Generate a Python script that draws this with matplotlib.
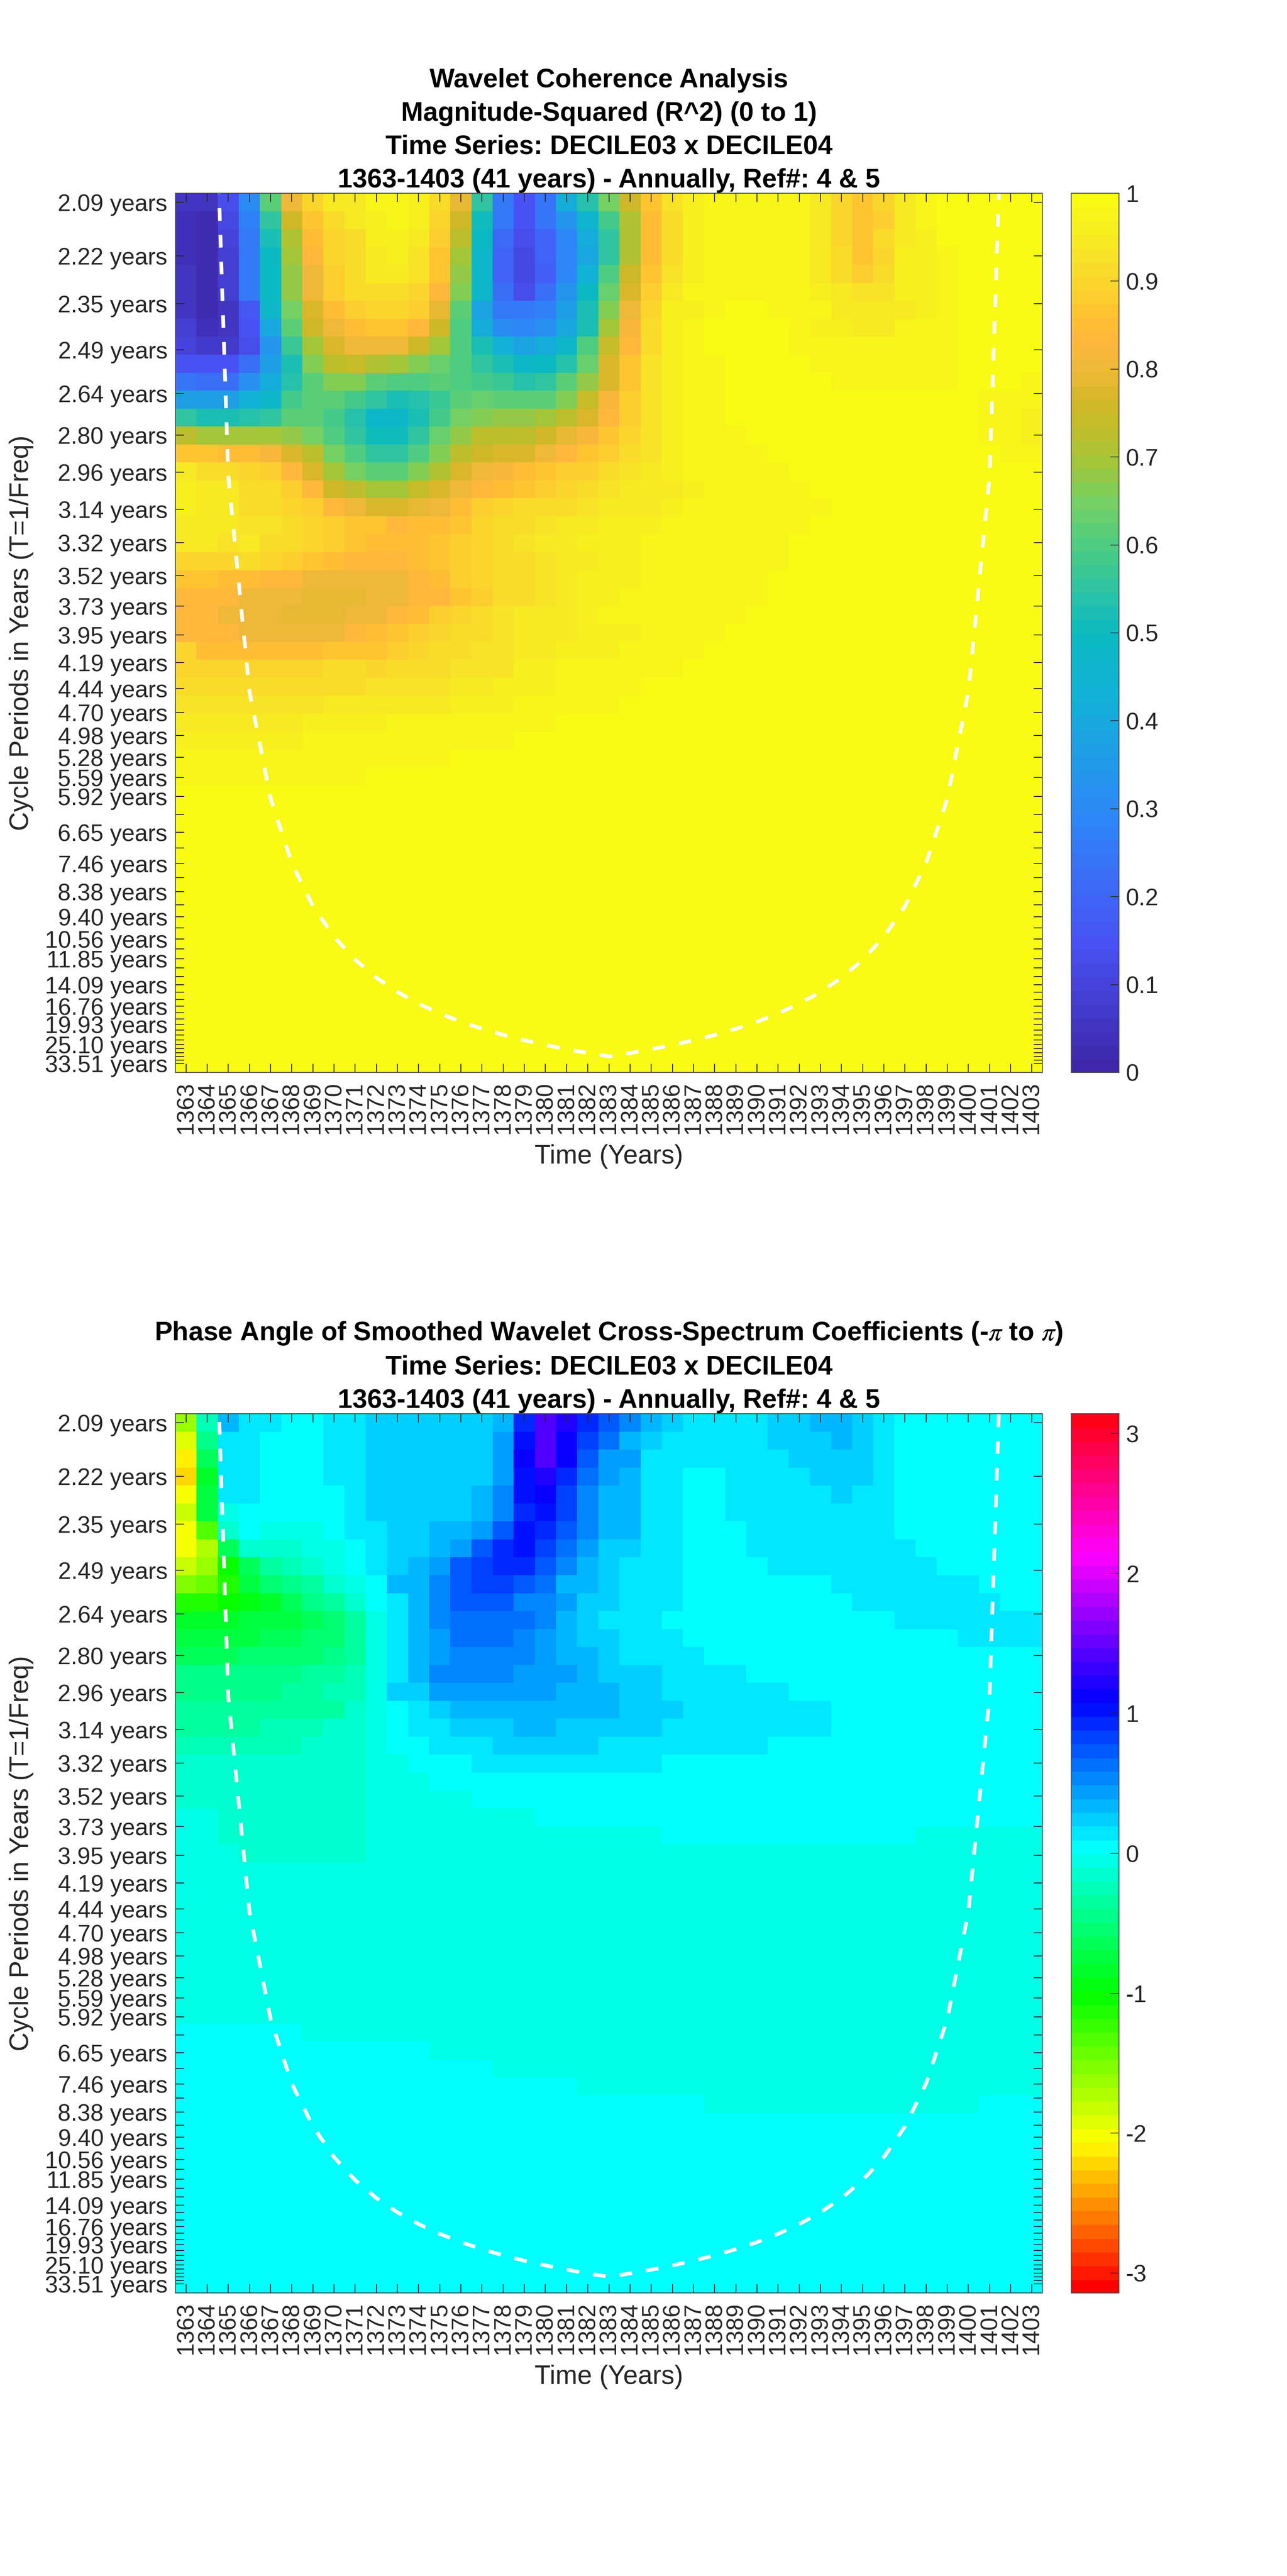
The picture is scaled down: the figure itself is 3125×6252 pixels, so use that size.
import matplotlib
matplotlib.use("Agg")
import matplotlib.pyplot as plt
import numpy as np
from matplotlib.colors import LinearSegmentedColormap, ListedColormap, hsv_to_rgb

plt.rcParams['font.family'] = ['Liberation Sans', 'DejaVu Sans']
plt.rcParams['mathtext.fontset'] = 'stix'
plt.rcParams['axes.unicode_minus'] = False

years = list(range(1363, 1404))

# periods behind the 49 rows / y ticks
periods = [2.09, 2.22, 2.35, 2.49, 2.64, 2.80, 2.96, 3.14, 3.32, 3.52, 3.73, 3.95, 4.19, 4.44, 4.70,
           4.98, 5.28, 5.59, 5.92, 6.27, 6.65, 7.04, 7.46, 7.90, 8.38, 8.88, 9.40, 9.96, 10.56, 11.18,
           11.85, 12.55, 13.30, 14.09, 14.93, 15.82, 16.76, 17.76, 18.81, 19.93, 21.12, 22.37, 23.70,
           25.10, 26.60, 28.18, 29.85, 31.63, 33.51]
unlabeled = [6.27, 7.04, 7.90, 8.88, 9.96, 11.18, 12.55, 13.30, 14.93, 15.82, 17.76, 18.81, 21.12,
             22.37, 23.70, 26.60, 28.18, 29.85, 31.63]

# cone of influence, period per year from 1364 to 1402
coi_years = list(range(1364, 1403))
coi_periods = [1.49, 2.98, 4.47, 5.96, 7.45, 8.94, 10.43, 11.92, 13.41, 14.90, 16.39, 17.88, 19.37,
               20.86, 22.35, 23.84, 25.33, 26.82, 28.31, 29.80, 28.31, 26.82, 25.33, 23.84, 22.35,
               20.86, 19.37, 17.88, 16.39, 14.90, 13.41, 11.92, 10.43, 8.94, 7.45, 5.96, 4.47, 2.98, 1.49]

# R^2 x 100, one list per row, top row first
coherence = [
    [5, 5, 14, 31, 62, 80, 90, 94, 95, 97, 98, 96, 91, 79, 55, 25, 15, 24, 41, 54, 65,
     75, 86, 93, 96, 98, 98, 98, 98, 97, 95, 90, 86, 90, 94, 97, 99, 99, 99, 99, 99],
    [4, 3, 12, 28, 56, 75, 87, 91, 94, 96, 98, 96, 90, 75, 51, 25, 15, 24, 34, 46, 58,
     71, 85, 92, 96, 98, 98, 98, 98, 97, 95, 90, 86, 89, 94, 97, 99, 99, 99, 99, 99],
    [4, 3, 10, 25, 52, 71, 85, 90, 92, 96, 96, 95, 89, 72, 49, 21, 13, 20, 29, 41, 56,
     71, 85, 92, 96, 98, 98, 98, 98, 97, 95, 90, 86, 92, 94, 96, 99, 99, 99, 99, 99],
    [4, 3, 9, 25, 49, 69, 84, 90, 92, 95, 96, 93, 87, 70, 48, 20, 12, 19, 29, 40, 55,
     71, 85, 92, 96, 98, 98, 98, 98, 97, 95, 92, 86, 90, 96, 96, 97, 99, 99, 99, 99],
    [5, 3, 9, 25, 49, 68, 81, 88, 91, 95, 95, 93, 87, 68, 47, 20, 12, 18, 29, 43, 60,
     75, 87, 93, 96, 98, 98, 98, 98, 97, 95, 92, 88, 92, 96, 96, 97, 99, 99, 99, 99],
    [5, 3, 9, 25, 49, 68, 81, 88, 91, 92, 92, 90, 83, 66, 47, 23, 13, 23, 33, 49, 63,
     77, 88, 94, 97, 98, 98, 98, 98, 98, 96, 95, 93, 93, 96, 96, 97, 99, 99, 99, 99],
    [5, 3, 6, 16, 47, 65, 78, 85, 89, 90, 90, 89, 79, 62, 39, 25, 25, 28, 36, 52, 66,
     80, 90, 96, 96, 97, 99, 99, 98, 98, 97, 95, 94, 94, 95, 96, 97, 99, 99, 99, 99],
    [8, 4, 5, 15, 40, 61, 76, 81, 85, 87, 87, 84, 76, 60, 42, 31, 29, 32, 40, 53, 70,
     82, 91, 96, 98, 99, 99, 99, 99, 97, 96, 96, 95, 95, 97, 98, 98, 99, 99, 99, 99],
    [10, 7, 7, 13, 34, 57, 70, 77, 80, 80, 80, 76, 69, 60, 52, 43, 39, 41, 47, 60, 74,
     84, 91, 96, 98, 99, 99, 99, 99, 97, 98, 97, 97, 97, 97, 98, 98, 99, 99, 99, 99],
    [15, 15, 15, 22, 37, 53, 66, 72, 74, 71, 69, 66, 63, 60, 56, 53, 48, 49, 54, 64, 77,
     87, 93, 96, 98, 98, 99, 99, 99, 99, 98, 98, 98, 98, 98, 98, 98, 99, 99, 99, 99],
    [24, 23, 23, 32, 42, 54, 62, 66, 66, 62, 60, 60, 61, 60, 59, 57, 54, 55, 61, 68, 78,
     87, 93, 96, 98, 98, 99, 99, 99, 99, 99, 98, 98, 98, 98, 98, 98, 99, 99, 99, 98],
    [36, 36, 36, 43, 48, 58, 62, 62, 59, 55, 52, 54, 57, 62, 63, 62, 61, 62, 66, 74, 82,
     89, 93, 96, 97, 98, 99, 99, 99, 99, 99, 99, 99, 99, 99, 99, 99, 99, 98, 98, 98],
    [55, 53, 53, 54, 56, 62, 62, 58, 54, 47, 47, 53, 59, 65, 67, 68, 68, 70, 73, 78, 84,
     89, 93, 96, 97, 98, 99, 99, 99, 99, 99, 99, 99, 99, 99, 99, 99, 99, 98, 98, 96],
    [72, 70, 70, 70, 70, 68, 65, 60, 56, 51, 51, 56, 63, 68, 72, 73, 73, 75, 79, 82, 87,
     90, 93, 96, 97, 98, 98, 99, 99, 99, 99, 99, 99, 99, 99, 99, 99, 99, 98, 98, 96],
    [87, 87, 85, 85, 82, 78, 73, 65, 60, 56, 56, 60, 66, 72, 76, 77, 78, 81, 84, 87, 89,
     92, 93, 96, 97, 97, 98, 98, 99, 99, 99, 99, 99, 99, 99, 99, 99, 99, 99, 98, 98],
    [94, 91, 91, 90, 89, 84, 78, 70, 65, 62, 62, 66, 71, 77, 80, 82, 85, 87, 88, 89, 91,
     93, 95, 96, 97, 98, 98, 98, 98, 99, 99, 99, 99, 99, 99, 99, 99, 99, 99, 99, 99],
    [96, 94, 94, 92, 91, 88, 84, 76, 73, 70, 69, 74, 77, 80, 84, 85, 87, 88, 90, 91, 93,
     95, 95, 95, 96, 97, 97, 98, 98, 98, 99, 99, 99, 99, 99, 99, 99, 99, 99, 99, 99],
    [96, 95, 95, 92, 92, 90, 88, 84, 81, 78, 77, 79, 81, 85, 88, 90, 91, 92, 91, 93, 94,
     94, 95, 96, 97, 97, 97, 98, 98, 98, 98, 99, 99, 99, 99, 99, 99, 99, 99, 99, 99],
    [95, 95, 95, 93, 93, 91, 90, 88, 86, 86, 84, 85, 85, 87, 90, 91, 92, 93, 94, 94, 96,
     96, 96, 98, 98, 97, 98, 98, 98, 98, 99, 99, 99, 99, 99, 99, 99, 99, 99, 99, 99],
    [95, 95, 93, 94, 92, 91, 90, 88, 87, 85, 85, 85, 87, 89, 90, 92, 93, 94, 95, 96, 96,
     96, 97, 97, 97, 98, 98, 98, 98, 99, 99, 99, 99, 99, 99, 99, 99, 99, 99, 99, 99],
    [90, 90, 90, 91, 90, 88, 86, 85, 83, 83, 83, 85, 87, 89, 90, 92, 92, 93, 95, 95, 96,
     96, 97, 97, 97, 98, 98, 98, 98, 99, 99, 99, 99, 99, 99, 99, 99, 99, 99, 99, 99],
    [87, 87, 85, 85, 83, 83, 81, 81, 81, 81, 81, 83, 85, 88, 90, 91, 92, 93, 95, 96, 96,
     96, 97, 97, 98, 98, 98, 98, 99, 99, 99, 99, 99, 99, 99, 99, 99, 99, 99, 99, 99],
    [83, 83, 83, 81, 81, 81, 79, 79, 79, 81, 81, 83, 84, 87, 89, 91, 92, 93, 95, 96, 96,
     97, 97, 97, 98, 98, 98, 98, 99, 99, 99, 99, 99, 99, 99, 99, 99, 99, 99, 99, 99],
    [83, 83, 81, 81, 81, 79, 79, 79, 81, 81, 83, 85, 88, 90, 91, 93, 94, 94, 95, 96, 98,
     97, 97, 98, 98, 98, 98, 99, 99, 99, 99, 99, 99, 99, 99, 99, 99, 99, 99, 99, 99],
    [84, 84, 84, 81, 81, 81, 81, 81, 83, 85, 86, 88, 90, 91, 92, 93, 94, 95, 95, 96, 96,
     96, 98, 98, 98, 98, 99, 99, 99, 99, 99, 99, 99, 99, 99, 99, 99, 99, 99, 99, 99],
    [90, 85, 85, 85, 85, 85, 85, 86, 87, 87, 88, 90, 91, 92, 93, 93, 95, 95, 96, 96, 96,
     98, 98, 98, 98, 99, 99, 99, 99, 99, 99, 99, 99, 99, 99, 99, 99, 99, 99, 99, 99],
    [90, 90, 90, 90, 90, 90, 90, 91, 91, 90, 91, 92, 92, 93, 93, 93, 96, 96, 98, 98, 98,
     98, 98, 98, 99, 99, 99, 99, 99, 99, 99, 99, 99, 99, 99, 99, 99, 99, 99, 99, 99],
    [92, 92, 92, 92, 92, 92, 92, 92, 92, 93, 93, 93, 93, 94, 94, 96, 96, 96, 98, 98, 98,
     98, 99, 99, 99, 99, 99, 99, 99, 99, 99, 99, 99, 99, 99, 99, 99, 99, 99, 99, 99],
    [93, 93, 93, 93, 93, 93, 93, 94, 94, 94, 95, 95, 95, 96, 96, 96, 97, 97, 98, 98, 98,
     99, 99, 99, 99, 99, 99, 99, 99, 99, 99, 99, 99, 99, 99, 99, 99, 99, 99, 99, 99],
    [95, 95, 95, 95, 95, 95, 96, 96, 96, 96, 97, 97, 97, 97, 98, 98, 98, 98, 99, 99, 99,
     99, 99, 99, 99, 99, 99, 99, 99, 99, 99, 99, 99, 99, 99, 99, 99, 99, 99, 99, 99],
    [96, 96, 96, 96, 96, 96, 98, 98, 98, 98, 98, 98, 98, 98, 98, 98, 99, 99, 99, 99, 99,
     99, 99, 99, 99, 99, 99, 99, 99, 99, 99, 99, 99, 99, 99, 99, 99, 99, 99, 99, 99],
    [97, 97, 97, 97, 97, 97, 98, 98, 98, 98, 98, 98, 98, 99, 99, 99, 99, 99, 99, 99, 99,
     99, 99, 99, 99, 99, 99, 99, 99, 99, 99, 99, 99, 99, 99, 99, 99, 99, 99, 99, 99],
    [98, 98, 98, 98, 98, 98, 98, 98, 98, 99, 99, 99, 99, 99, 99, 99, 99, 99, 99, 99, 99,
     99, 99, 99, 99, 99, 99, 99, 99, 99, 99, 99, 99, 99, 99, 99, 99, 99, 99, 99, 99],
] + [[99] * 41 for _ in range(16)]

# phase angle (radians), one list per row, top row first
phase = [
    [-1.70, -0.27, 0.27, 0.14, 0.14, 0.04, 0.04, 0.10, 0.10, 0.19, 0.19, 0.19, 0.19, 0.19, 0.19, 0.33, 0.92, 1.33, 1.17, 0.85, 0.68,
     0.50, 0.33, 0.20, 0.10, 0.10, 0.10, 0.10, 0.19, 0.19, 0.30, 0.30, 0.19, 0.10, 0.04, 0.04, 0.04, 0.04, 0.04, 0.04, 0.04],
    [-1.95, -0.51, 0.14, 0.14, 0.04, 0.04, 0.04, 0.10, 0.10, 0.19, 0.19, 0.19, 0.19, 0.19, 0.19, 0.38, 1.00, 1.33, 1.05, 0.80, 0.60,
     0.33, 0.24, 0.10, 0.10, 0.10, 0.10, 0.10, 0.19, 0.19, 0.19, 0.30, 0.19, 0.10, 0.04, 0.04, 0.04, 0.04, 0.04, 0.04, 0.04],
    [-2.20, -0.72, 0.14, 0.14, 0.04, 0.04, 0.04, 0.10, 0.10, 0.19, 0.19, 0.19, 0.19, 0.19, 0.19, 0.38, 1.05, 1.33, 1.05, 0.68, 0.42,
     0.35, 0.10, 0.10, 0.10, 0.10, 0.10, 0.10, 0.10, 0.19, 0.19, 0.19, 0.19, 0.10, 0.04, 0.04, 0.04, 0.04, 0.04, 0.04, 0.04],
    [-2.25, -0.84, 0.14, 0.14, 0.04, 0.04, 0.04, 0.10, 0.10, 0.19, 0.19, 0.19, 0.19, 0.19, 0.19, 0.38, 1.00, 1.17, 0.88, 0.60, 0.42,
     0.25, 0.10, 0.10, 0.04, 0.04, 0.10, 0.10, 0.10, 0.10, 0.19, 0.19, 0.19, 0.10, 0.04, 0.04, 0.04, 0.04, 0.04, 0.04, 0.04],
    [-2.09, -0.80, 0.14, 0.14, 0.04, 0.04, 0.04, 0.04, 0.10, 0.19, 0.19, 0.19, 0.19, 0.19, 0.30, 0.50, 0.95, 1.05, 0.80, 0.50, 0.30,
     0.25, 0.10, 0.10, 0.04, 0.04, 0.10, 0.10, 0.10, 0.10, 0.10, 0.19, 0.10, 0.10, 0.04, 0.04, 0.04, 0.04, 0.04, 0.04, 0.04],
    [-1.85, -0.80, -0.09, 0.04, 0.04, 0.04, 0.04, 0.04, 0.10, 0.19, 0.19, 0.19, 0.19, 0.19, 0.30, 0.50, 0.90, 1.00, 0.80, 0.50, 0.30,
     0.25, 0.10, 0.10, 0.04, 0.04, 0.10, 0.10, 0.10, 0.10, 0.10, 0.10, 0.10, 0.10, 0.04, 0.04, 0.04, 0.04, 0.04, 0.04, 0.04],
    [-2.09, -1.40, -0.20, 0.04, -0.10, -0.10, -0.10, 0.04, 0.10, 0.10, 0.19, 0.19, 0.30, 0.30, 0.40, 0.68, 1.00, 0.88, 0.68, 0.50, 0.33,
     0.25, 0.10, 0.10, 0.04, 0.04, 0.04, 0.10, 0.10, 0.10, 0.10, 0.10, 0.10, 0.10, 0.04, 0.04, 0.04, 0.04, 0.04, 0.04, 0.04],
    [-2.09, -1.75, -0.64, -0.20, -0.20, -0.20, -0.10, -0.10, 0.04, 0.10, 0.19, 0.19, 0.30, 0.43, 0.64, 0.90, 1.02, 0.76, 0.60, 0.43, 0.19,
     0.19, 0.10, 0.10, 0.04, 0.04, 0.04, 0.10, 0.10, 0.10, 0.10, 0.10, 0.10, 0.10, 0.10, 0.04, 0.04, 0.04, 0.04, 0.04, 0.04],
    [-1.90, -1.65, -1.05, -0.68, -0.35, -0.27, -0.15, -0.07, 0.04, 0.10, 0.19, 0.30, 0.43, 0.68, 0.76, 0.90, 0.90, 0.72, 0.50, 0.30, 0.19,
     0.10, 0.10, 0.10, 0.04, 0.04, 0.04, 0.04, 0.10, 0.10, 0.10, 0.10, 0.10, 0.10, 0.10, 0.10, 0.04, 0.04, 0.04, 0.04, 0.04],
    [-1.55, -1.50, -1.20, -0.80, -0.60, -0.53, -0.43, -0.18, -0.10, 0.04, 0.25, 0.30, 0.50, 0.64, 0.80, 0.80, 0.68, 0.60, 0.33, 0.30, 0.17,
     0.10, 0.10, 0.10, 0.04, 0.04, 0.04, 0.04, 0.04, 0.04, 0.04, 0.10, 0.10, 0.10, 0.10, 0.10, 0.10, 0.10, 0.04, 0.04, 0.04],
    [-1.20, -1.20, -1.05, -0.95, -0.90, -0.64, -0.46, -0.39, -0.18, 0.04, 0.14, 0.33, 0.50, 0.64, 0.72, 0.72, 0.50, 0.45, 0.38, 0.19, 0.19,
     0.10, 0.10, 0.10, 0.04, 0.04, 0.04, 0.04, 0.04, 0.04, 0.04, 0.04, 0.10, 0.10, 0.10, 0.10, 0.10, 0.10, 0.10, 0.04, 0.04],
    [-0.92, -0.92, -0.92, -0.80, -0.76, -0.76, -0.68, -0.55, -0.35, -0.10, 0.14, 0.33, 0.50, 0.60, 0.60, 0.60, 0.60, 0.50, 0.28, 0.20, 0.08,
     0.08, 0.08, 0.04, 0.04, 0.04, 0.04, 0.04, 0.04, 0.04, 0.04, 0.04, 0.04, 0.04, 0.10, 0.10, 0.10, 0.10, 0.10, 0.10, 0.10],
    [-0.76, -0.76, -0.76, -0.76, -0.68, -0.68, -0.60, -0.60, -0.35, -0.10, 0.14, 0.33, 0.43, 0.55, 0.62, 0.62, 0.45, 0.35, 0.28, 0.19, 0.19,
     0.10, 0.10, 0.10, 0.04, 0.04, 0.04, 0.04, 0.04, 0.04, 0.04, 0.04, 0.04, 0.04, 0.04, 0.04, 0.04, 0.10, 0.10, 0.10, 0.10],
    [-0.68, -0.68, -0.68, -0.55, -0.55, -0.55, -0.55, -0.46, -0.35, -0.10, 0.14, 0.33, 0.43, 0.50, 0.50, 0.50, 0.50, 0.35, 0.28, 0.28, 0.19,
     0.10, 0.10, 0.10, 0.10, 0.04, 0.04, 0.04, 0.04, 0.04, 0.04, 0.04, 0.04, 0.04, 0.04, 0.04, 0.04, 0.04, 0.04, 0.04, 0.04],
    [-0.50, -0.50, -0.50, -0.50, -0.50, -0.50, -0.43, -0.43, -0.33, -0.10, 0.14, 0.33, 0.45, 0.45, 0.52, 0.52, 0.41, 0.41, 0.41, 0.30, 0.20,
     0.20, 0.20, 0.10, 0.10, 0.10, 0.10, 0.04, 0.04, 0.04, 0.04, 0.04, 0.04, 0.04, 0.04, 0.04, 0.04, 0.04, 0.04, 0.04, 0.04],
    [-0.50, -0.50, -0.50, -0.50, -0.50, -0.43, -0.43, -0.30, -0.30, -0.10, 0.15, 0.24, 0.35, 0.41, 0.41, 0.41, 0.41, 0.41, 0.30, 0.30, 0.33,
     0.20, 0.20, 0.10, 0.10, 0.10, 0.10, 0.10, 0.10, 0.04, 0.04, 0.04, 0.04, 0.04, 0.04, 0.04, 0.04, 0.04, 0.04, 0.04, 0.04],
    [-0.43, -0.43, -0.43, -0.43, -0.43, -0.43, -0.43, -0.35, -0.20, -0.10, 0.04, 0.08, 0.20, 0.28, 0.28, 0.28, 0.28, 0.28, 0.28, 0.28, 0.33,
     0.20, 0.20, 0.20, 0.10, 0.10, 0.10, 0.10, 0.10, 0.10, 0.10, 0.04, 0.04, 0.04, 0.04, 0.04, 0.04, 0.04, 0.04, 0.04, 0.04],
    [-0.37, -0.37, -0.37, -0.37, -0.30, -0.30, -0.30, -0.20, -0.20, -0.10, 0.04, 0.10, 0.10, 0.19, 0.19, 0.19, 0.28, 0.28, 0.17, 0.17, 0.20,
     0.20, 0.20, 0.10, 0.10, 0.10, 0.10, 0.10, 0.10, 0.10, 0.10, 0.04, 0.04, 0.04, 0.04, 0.04, 0.04, 0.04, 0.04, 0.04, 0.04],
    [-0.28, -0.28, -0.28, -0.28, -0.28, -0.28, -0.20, -0.20, -0.20, -0.10, 0.04, 0.04, 0.10, 0.10, 0.10, 0.19, 0.19, 0.19, 0.19, 0.19, 0.10,
     0.10, 0.10, 0.10, 0.10, 0.10, 0.10, 0.10, 0.04, 0.04, 0.04, 0.04, 0.04, 0.04, 0.04, 0.04, 0.04, 0.04, 0.04, 0.04, 0.04],
    [-0.20, -0.20, -0.20, -0.20, -0.20, -0.20, -0.20, -0.20, -0.20, -0.10, -0.10, 0.04, 0.04, 0.04, 0.10, 0.10, 0.10, 0.10, 0.10, 0.10, 0.13,
     0.13, 0.13, 0.04, 0.04, 0.04, 0.04, 0.04, 0.04, 0.04, 0.04, 0.04, 0.04, 0.04, 0.04, 0.04, 0.04, 0.04, 0.04, 0.04, 0.04],
    [-0.20, -0.20, -0.20, -0.20, -0.20, -0.20, -0.20, -0.20, -0.20, -0.10, -0.10, -0.10] + [0.04] * 29,
    [-0.20, -0.20, -0.20, -0.20, -0.20, -0.20, -0.20, -0.20, -0.20, -0.10, -0.10, -0.10, -0.10, -0.10] + [0.04] * 27,
    [-0.08, -0.08, -0.20, -0.20, -0.20, -0.20, -0.20, -0.20, -0.20] + [-0.10] * 8 + [0.04] * 24,
    [-0.08, -0.08, -0.20, -0.20, -0.20, -0.20, -0.20, -0.20, -0.20] + [-0.10] * 14 + [0.04] * 12 + [-0.10] * 6,
    [-0.08, -0.08, -0.08, -0.18, -0.18, -0.18, -0.18, -0.18, -0.18] + [-0.10] * 32,
] + [[-0.10] * 41 for _ in range(9)] + [
    [0.04] * 6 + [-0.10] * 35,
    [0.04] * 12 + [-0.10] * 29,
    [0.04] * 15 + [-0.10] * 26,
    [0.04] * 19 + [-0.10] * 22,
    [0.04] * 25 + [-0.10] * 13 + [0.04] * 3,
] + [[0.04] * 41 for _ in range(10)]

# phase values above were read at the low edge of a colour level, so shift by half a level
HALF_LEVEL = np.pi / 64

parula = LinearSegmentedColormap.from_list('parula', [
    (0.0, (62 / 255, 38 / 255, 168 / 255)), (0.143, (72 / 255, 82 / 255, 244 / 255)),
    (0.286, (45 / 255, 135 / 255, 247 / 255)), (0.43, (18 / 255, 177 / 255, 214 / 255)),
    (0.5, (10 / 255, 186 / 255, 192 / 255)), (0.55, (45 / 255, 195 / 255, 165 / 255)),
    (0.6, (75 / 255, 205 / 255, 130 / 255)), (0.65, (115 / 255, 208 / 255, 100 / 255)),
    (0.7, (165 / 255, 198 / 255, 55 / 255)), (0.74, (195 / 255, 188 / 255, 40 / 255)),
    (0.77, (212 / 255, 182 / 255, 38 / 255)), (0.8, (235 / 255, 185 / 255, 55 / 255)),
    (0.84, (255 / 255, 182 / 255, 60 / 255)), (0.87, (255 / 255, 195 / 255, 50 / 255)),
    (0.9, (250 / 255, 212 / 255, 45 / 255)), (0.95, (247 / 255, 232 / 255, 35 / 255)),
    (1.0, (249 / 255, 251 / 255, 20 / 255))], N=64)
# MATLAB style hsv: level 32 of 64 is pure cyan
hsv64 = ListedColormap(hsv_to_rgb([[k / 64, 1, 1] for k in range(64)]))

W, H = 3125, 6252
DARK = '#262626'
EDGE = '#4d4d4d'

# rows are evenly spaced in frequency between the first and last period
centers = np.linspace(1 / periods[0], 1 / periods[-1], len(periods))
step = centers[0] - centers[1]
f_edges = np.append(centers + step / 2, centers[-1] - step / 2)
x_edges = np.arange(years[0] - 0.5, years[-1] + 1)


def panel(top, bottom, values, cmap, vmin, vmax, title, cticks, title_pad):
    ax = fig.add_axes([426 / W, 1 - bottom / H, (2531 - 426) / W, (bottom - top) / H])
    mesh = ax.pcolormesh(x_edges, f_edges, values, cmap=cmap, vmin=vmin, vmax=vmax,
                         shading='flat', antialiased=False, rasterized=True)
    ax.plot(coi_years, 1 / np.array(coi_periods), color='white', lw=6.5,
            linestyle=(1.5, (3.4, 3.8)), dash_capstyle='butt')
    ax.set_xlim(x_edges[0], x_edges[-1])
    ax.set_ylim(f_edges[-1], f_edges[0])

    ax.set_xticks(years)
    ax.set_xticklabels([str(y) for y in years], rotation=90, fontsize=41, color=DARK)
    ax.set_yticks(1 / np.array(periods))
    ax.set_yticklabels(['' if p in unlabeled else '%.2f years' % p for p in periods],
                       fontsize=41, color=DARK)
    ax.tick_params(axis='both', direction='in', top=True, right=True, length=15, width=1.5, color=DARK)
    ax.tick_params(axis='x', pad=16)
    ax.tick_params(axis='y', pad=14)
    for s in ax.spines.values():
        s.set_linewidth(1.6)
        s.set_color(EDGE)

    ax.set_xlabel('Time (Years)', fontsize=46, color=DARK, labelpad=18)
    ax.set_ylabel('Cycle Periods in Years (T=1/Freq)', fontsize=46, color=DARK)
    ax.yaxis.set_label_coords((82 - 426) / (2531 - 426), 0.5)
    ax.set_title(title, fontsize=46.4, fontweight='bold', color='black', pad=title_pad, linespacing=1.45)

    cax = fig.add_axes([2601 / W, 1 - bottom / H, (2717 - 2601) / W, (bottom - top) / H])
    cb = fig.colorbar(mesh, cax=cax, ticks=cticks)
    cb.set_ticklabels(['%g' % t for t in cticks])
    cb.ax.tick_params(direction='in', length=15, width=1.2, color=DARK, labelsize=41, labelcolor=DARK, pad=12)
    cb.solids.set_edgecolor('face')
    cb.outline.set_linewidth(1.6)
    cb.outline.set_edgecolor(EDGE)
    return ax


fig = plt.figure(figsize=(W / 100, H / 100), dpi=100, facecolor='white')

panel(469, 2603, np.array(coherence) / 100, parula, 0, 1,
      'Wavelet Coherence Analysis\nMagnitude-Squared (R^2) (0 to 1)\n'
      'Time Series: DECILE03 x DECILE04\n1363-1403 (41 years) - Annually, Ref#: 4 & 5',
      [0, 0.1, 0.2, 0.3, 0.4, 0.5, 0.6, 0.7, 0.8, 0.9, 1], 10)
panel(3431, 5565, np.array(phase) + HALF_LEVEL, hsv64, -np.pi, np.pi,
      'Phase Angle of Smoothed Wavelet Cross-Spectrum Coefficients (-$\\pi$ to $\\pi$)\n'
      'Time Series: DECILE03 x DECILE04\n1363-1403 (41 years) - Annually, Ref#: 4 & 5',
      [-3, -2, -1, 0, 1, 2, 3], 10)

fig.savefig('out.png', dpi=100)
